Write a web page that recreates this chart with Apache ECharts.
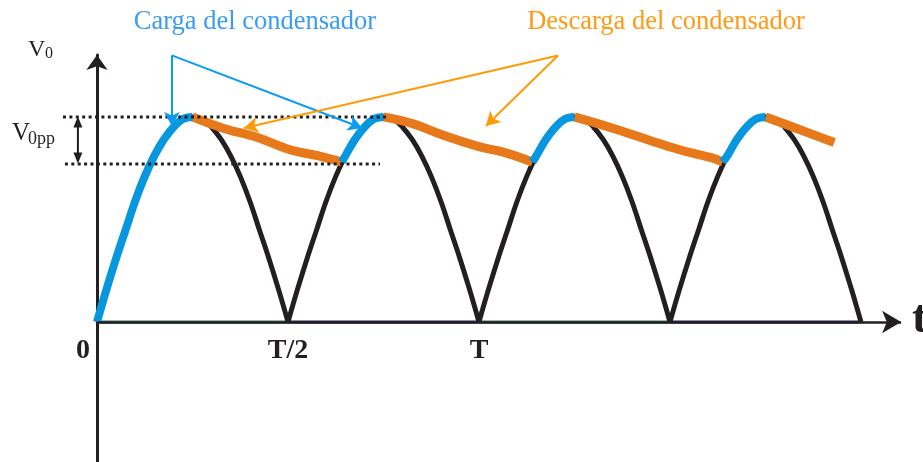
<!DOCTYPE html>
<html>
<head>
<meta charset="utf-8">
<script src="https://cdn.jsdelivr.net/npm/echarts@6/dist/echarts.min.js"></script>
<style>
  html, body { margin: 0; padding: 0; background: #fff; }
  #chart { width: 923px; height: 462px; }
</style>
</head>
<body>
<div id="chart"></div>
<script>
// time in units of T, voltage in units of the peak V0
const halfWaveStarts = [0, 0.5, 1.0, 1.5];
const archOffsets = [0, 0.025, 0.05, 0.075, 0.1, 0.125, 0.15, 0.175, 0.2, 0.225, 0.25,
                     0.275, 0.3, 0.325, 0.35, 0.375, 0.4, 0.425, 0.45, 0.475, 0.5];
const archLevels = [0, 0.16, 0.31, 0.45, 0.59, 0.71, 0.81, 0.89, 0.95, 0.99, 1,
                    0.99, 0.95, 0.89, 0.81, 0.71, 0.59, 0.45, 0.31, 0.16, 0];

// capacitor charging (blue) pieces
const chargeTimes = [
  [0, 0.025, 0.05, 0.075, 0.1, 0.125, 0.15, 0.175, 0.2, 0.225, 0.25],
  [0.641, 0.65, 0.675, 0.7, 0.725, 0.75],
  [1.14, 1.15, 1.175, 1.2, 1.225, 1.25],
  [1.638, 1.65, 1.675, 1.7, 1.725, 1.75]
];
const chargeLevels = [
  [0, 0.16, 0.31, 0.45, 0.59, 0.71, 0.81, 0.89, 0.95, 0.99, 1],
  [0.78, 0.81, 0.89, 0.95, 0.99, 1],
  [0.78, 0.81, 0.89, 0.95, 0.99, 1],
  [0.78, 0.81, 0.89, 0.95, 0.99, 1]
];

// capacitor discharging (orange) pieces
const dischargeTimes = [
  [0.25, 0.33, 0.42, 0.505, 0.58, 0.641],
  [0.75, 0.83, 0.9, 1.0, 1.07, 1.14],
  [1.25, 1.35, 1.44, 1.525, 1.61, 1.638],
  [1.75, 1.83, 1.93]
];
const dischargeLevels = [
  [1, 0.945, 0.9, 0.84, 0.81, 0.78],
  [1, 0.965, 0.915, 0.855, 0.825, 0.78],
  [1, 0.945, 0.89, 0.84, 0.8, 0.78],
  [1, 0.945, 0.875]
];

// baseline pieces under each half wave
const baselineColors = ['#3b6e63', '#2b1b58', '#3b6e63', '#2b1b58'];
const axisEnd = 2.105;

const tickValues = [0, 0.5, 1];
const tickLabels = ['0', 'T/2', 'T'];

// ripple guides
const rippleLevels = [1, 0.771];
const rippleFrom = [-0.089, -0.084];
const rippleTo = [0.759, 0.741];
const vppArrowTime = -0.05;
const vppArrowLevels = [0.975, 0.8];

// callout arrows [corner, tip]
const chargeCallouts = [[[0.196, 1.3], [0.196, 0.956]], [[0.196, 1.3], [0.694, 0.946]]];
const dischargeCallouts = [[[1.207, 1.3], [0.385, 0.946]], [[1.207, 1.3], [1.018, 0.956]]];

const serif = 'Liberation Serif';
const ink = '#231f20';

const zip = (xs, ys) => xs.map((x, i) => [x, ys[i]]);

const chart = echarts.init(document.getElementById('chart'));

const series = [];

// x axis drawn as an arrow along v = 0
series.push({
  type: 'line', data: [], silent: true,
  markLine: {
    silent: true, animation: false,
    symbol: ['none', 'arrow'], symbolSize: [17, 19],
    label: { show: false },
    lineStyle: { color: ink, width: 2.5, type: 'solid' },
    data: [[{ coord: [0, 0] }, { coord: [axisEnd, 0] }]]
  }
});

halfWaveStarts.forEach((s, i) => {
  series.push({
    type: 'line', symbol: 'none', silent: true,
    data: [[s, 0], [s + 0.5, 0]],
    lineStyle: { color: baselineColors[i], width: 3 }
  });
});

halfWaveStarts.forEach(s => {
  series.push({
    type: 'line', symbol: 'none', smooth: 0.4, silent: true,
    data: archOffsets.map((o, j) => [s + o, archLevels[j]]),
    lineStyle: { color: ink, width: 5 }
  });
});

dischargeTimes.forEach((t, i) => {
  series.push({
    type: 'line', symbol: 'none', smooth: 0.4, silent: true,
    data: zip(t, dischargeLevels[i]),
    lineStyle: { color: '#e8791b', width: 9 }
  });
});

chargeTimes.forEach((t, i) => {
  series.push({
    type: 'line', symbol: 'none', smooth: 0.4, silent: true,
    data: zip(t, chargeLevels[i]),
    lineStyle: { color: '#0797de', width: 8 }
  });
});

rippleLevels.forEach((v, i) => {
  series.push({
    type: 'line', symbol: 'none', silent: true,
    data: [[rippleFrom[i], v], [rippleTo[i], v]],
    lineStyle: { color: ink, width: 3, type: [3, 3.4] }
  });
});

series.push({
  type: 'line', silent: true,
  data: [
    { value: [vppArrowTime, vppArrowLevels[0]], symbol: 'triangle', symbolRotate: 0 },
    { value: [vppArrowTime, vppArrowLevels[1]], symbol: 'triangle', symbolRotate: 180 }
  ],
  symbolSize: [9, 11],
  itemStyle: { color: ink },
  lineStyle: { color: ink, width: 2 }
});

const calloutLines = (list, color) => list.map(([a, b]) => [
  { coord: a, lineStyle: { color, width: 2, type: 'solid' } },
  { coord: b }
]);

series.push({
  type: 'line', data: [], silent: true,
  markLine: {
    silent: true, animation: false,
    symbol: ['none', 'arrow'], symbolSize: [12, 14],
    label: { show: false },
    data: calloutLines(chargeCallouts, '#0a9bf2').concat(calloutLines(dischargeCallouts, '#ff9a0a'))
  }
});

// tick labels under the time axis
series.push({
  type: 'scatter', silent: true, symbolSize: 0,
  itemStyle: { opacity: 1 },
  data: tickValues.map((t, i) => ({
    value: [t, 0],
    label: { formatter: tickLabels[i], offset: i === 0 ? [-14, 0] : [0, 0] }
  })),
  label: {
    show: true, position: 'bottom', distance: 15, opacity: 1,
    fontFamily: serif, fontSize: 28, fontWeight: 'bold', color: ink
  }
});

chart.setOption({
  animation: false,
  grid: { left: 58.8, right: 20, top: 55, bottom: 0, containLabel: false, outerBoundsMode: 'none' },
  xAxis: {
    type: 'value', min: -0.1, max: 2.11,
    splitLine: { show: false },
    axisTick: { show: false },
    axisLabel: { show: false },
    axisLine: { show: false }
  },
  yAxis: {
    type: 'value', min: -0.683, max: 1.302,
    splitLine: { show: false },
    axisTick: { show: false },
    axisLabel: { show: false },
    axisLine: { show: true, onZero: true, symbol: ['none', 'arrow'], symbolSize: [16, 15],
                lineStyle: { color: ink, width: 3 } }
  },
  series,
  graphic: [
    { type: 'text', x: 255, y: 22, style: { text: 'Carga del condensador', fill: '#3a9cf5',
      font: '26.5px "Liberation Serif"', align: 'center', verticalAlign: 'middle' } },
    { type: 'text', x: 666, y: 22, style: { text: 'Descarga del condensador', fill: '#ff9a12',
      font: '26.5px "Liberation Serif"', align: 'center', verticalAlign: 'middle' } },
    { type: 'text', x: 28, y: 50, style: { text: 'V', fill: ink,
      font: '24px "Liberation Serif"', align: 'left', verticalAlign: 'middle' } },
    { type: 'text', x: 45, y: 53.5, style: { text: '0', fill: ink,
      font: '16px "Liberation Serif"', align: 'left', verticalAlign: 'middle' } },
    { type: 'text', x: 12, y: 133.5, style: { text: 'V', fill: ink,
      font: '25px "Liberation Serif"', align: 'left', verticalAlign: 'middle' } },
    { type: 'text', x: 28, y: 139, style: { text: '0pp', fill: ink,
      font: '18px "Liberation Serif"', align: 'left', verticalAlign: 'middle' } },
    { type: 'text', x: 912, y: 320, style: { text: 't', fill: ink,
      font: 'bold 46px "Liberation Serif"', align: 'left', verticalAlign: 'middle' } }
  ]
});
</script>
</body>
</html>
